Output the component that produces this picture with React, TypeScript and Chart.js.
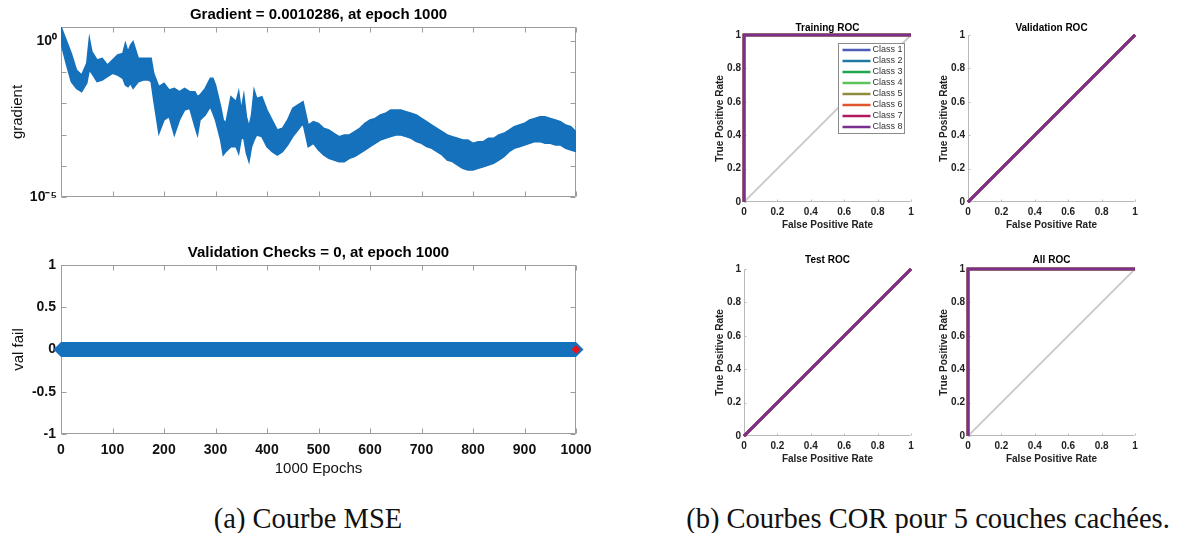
import React, { useEffect, useRef } from 'react';
import { Chart, registerables } from 'chart.js';

Chart.register(...registerables);

const SANS = "'Liberation Sans', Arial, Helvetica, sans-serif";
Chart.defaults.font.family = SANS;
Chart.defaults.color = '#1a1a1a';

// ---------- Data: gradient training curve (band envelope) ----------
const gradEpochs = [
  0, 10, 20, 30, 40, 50, 55, 60, 70, 80,
  90, 100, 110, 120, 125, 130, 135, 140, 150, 160,
  170, 175, 180, 190, 200, 210, 220, 230, 240, 250,
  260, 265, 270, 280, 290, 295, 300, 310, 315, 320,
  330, 340, 345, 350, 355, 360, 365, 370, 375, 380,
  390, 400, 410, 420, 430, 440, 450, 460, 470, 480,
  490, 500, 510, 520, 530, 540, 550, 560, 570, 580,
  590, 600, 610, 620, 630, 640, 650, 660, 670, 680,
  690, 700, 710, 720, 730, 740, 750, 760, 770, 780,
  790, 800, 810, 820, 830, 840, 850, 860, 870, 880,
  890, 900, 910, 920, 930, 940, 950, 960, 970, 980,
  990, 1000,
];
const gradUpper = [
  2.88, 1.08, 0.4, 0.118, 0.081, 0.192, 1.22, 0.455, 0.246, 0.278,
  0.17, 0.246, 0.356, 0.4, 0.84, 0.455, 0.74, 0.95, 0.278, 0.278,
  0.278, 0.278, 0.092, 0.0344, 0.044, 0.0269, 0.0304, 0.0238, 0.0304, 0.0238,
  0.0238, 0.0164, 0.0186, 0.0304, 0.0636, 0.0636, 0.0389, 0.00786, 0.00294, 0.0023,
  0.0164, 0.0114, 0.0238, 0.00614, 0.0186, 0.00376, 0.0018, 0.00425, 0.0269, 0.0145,
  0.0164, 0.00614, 0.00294, 0.0014, 0.00159, 0.00294, 0.00695, 0.00889, 0.0114, 0.00203,
  0.0026, 0.0023, 0.00159, 0.0014, 0.0011, 0.000859, 0.000971, 0.000971, 0.00124, 0.00159,
  0.0023, 0.00294, 0.00332, 0.00425, 0.00481, 0.00614, 0.00614, 0.00614, 0.00543, 0.00481,
  0.00425, 0.00332, 0.0026, 0.00203, 0.00159, 0.00124, 0.000971, 0.000859, 0.000759, 0.000671,
  0.000671, 0.000525, 0.000594, 0.000594, 0.000759, 0.000759, 0.000971, 0.0011, 0.0014, 0.0018,
  0.00203, 0.0023, 0.00294, 0.00332, 0.00376, 0.00376, 0.00332, 0.00294, 0.0026, 0.00203,
  0.0018, 0.00124,
];
const gradLower = [
  0.84, 0.192, 0.0497, 0.0304, 0.0238, 0.044, 0.118, 0.092, 0.0497, 0.0562,
  0.072, 0.092, 0.081, 0.0636, 0.0389, 0.0344, 0.044, 0.0304, 0.0497, 0.0562,
  0.0562, 0.0497, 0.0129, 0.0011, 0.00294, 0.00376, 0.000971, 0.00294, 0.00614, 0.00695,
  0.0018, 0.000971, 0.00294, 0.00425, 0.00786, 0.00481, 0.00294, 0.000671, 0.000222, 0.000284,
  0.00041, 0.00041, 0.000251, 0.000759, 0.000759, 0.000251, 0.000136, 0.00041, 0.000671, 0.000971,
  0.000859, 0.00041, 0.000284, 0.000222, 0.000284, 0.000464, 0.000859, 0.0014, 0.0023, 0.00041,
  0.000525, 0.000321, 0.000222, 0.000173, 0.000153, 0.000136, 0.000136, 0.000173, 0.000196, 0.000251,
  0.000321, 0.00041, 0.000525, 0.000671, 0.000759, 0.000859, 0.000971, 0.000971, 0.000859, 0.000759,
  0.000594, 0.000525, 0.00041, 0.000363, 0.000284, 0.000222, 0.000153, 0.000136, 0.000106, 0.000083,
  0.0000733, 0.0000733, 0.000083, 0.0000938, 0.000106, 0.00012, 0.000153, 0.000196, 0.000284, 0.000363,
  0.00041, 0.000464, 0.000525, 0.000594, 0.000594, 0.000525, 0.000525, 0.000464, 0.000464, 0.000363,
  0.000321, 0.000284,
];
const gradTickValues = [1e-5, 1e-4, 1e-3, 1e-2, 1e-1, 1];
const gradTickLabels = ['10⁻⁵', '', '', '', '', '10⁰'];
const gradMin = 1e-5;
const gradMax = 2.81;

const epochTicks = [0, 100, 200, 300, 400, 500, 600, 700, 800, 900, 1000];
const epochTickLabels = ['0', '100', '200', '300', '400', '500', '600', '700', '800', '900', '1000'];

// ---------- Data: validation checks ----------
const valEpochs = [0, 1000];
const valFail = [0, 0];
const bestEpoch = [1000];
const bestValFail = [0];
const valTicks = [-1, -0.5, 0, 0.5, 1];
const valTickLabels = ['-1', '-0.5', '0', '0.5', '1'];

// ---------- Data: ROC ----------
const rocTicks = [0, 0.2, 0.4, 0.6, 0.8, 1];
const rocTickLabels = ['0', '0.2', '0.4', '0.6', '0.8', '1'];
const classNames = ['Class 1', 'Class 2', 'Class 3', 'Class 4', 'Class 5', 'Class 6', 'Class 7', 'Class 8'];
const classColors = ['#4a5cb6', '#1d7aa2', '#1fa84a', '#5cc45a', '#8c8c3e', '#e0542e', '#b2185c', '#7b2f8f'];
const rocStepFpr = [0, 0, 1];
const rocStepTpr = [0, 1, 1];
const rocDiagFpr = [0, 1];
const rocDiagTpr = [0, 1];
const chanceFpr = [0, 1];
const chanceTpr = [0, 1];

const BLUE = '#1571bb';
const AXIS = '#9c9c9c';

const pts = (xs: number[], ys: number[]) => xs.map((x, i) => ({ x, y: ys[i] }));

// ---------- Plugins ----------
const boxTicks = {
  id: 'boxTicks',
  beforeDatasetsDraw(chart: any, _a: any, opts: any) {
    if (!opts || !opts.color) return;
    const { ctx, chartArea } = chart;
    const xs = chart.scales.x;
    const ys = chart.scales.y;
    const L = Math.round(chartArea.left) + 0.5;
    const R = Math.round(chartArea.right) - 0.5;
    const T = Math.round(chartArea.top) + 0.5;
    const B = Math.round(chartArea.bottom) - 0.5;
    const len = opts.len;
    ctx.save();
    ctx.strokeStyle = opts.color;
    ctx.lineWidth = 1;
    ctx.beginPath();
    ctx.moveTo(L, T);
    ctx.lineTo(L, B);
    ctx.lineTo(R, B);
    if (opts.box) {
      ctx.lineTo(R, T);
      ctx.lineTo(L, T);
    }
    xs.ticks.forEach((t: any) => {
      const px = Math.round(xs.getPixelForValue(t.value)) + 0.5;
      ctx.moveTo(px, B);
      ctx.lineTo(px, B - len);
      if (opts.box) {
        ctx.moveTo(px, T);
        ctx.lineTo(px, T + len);
      }
    });
    ys.ticks.forEach((t: any) => {
      const py = Math.round(ys.getPixelForValue(t.value)) + 0.5;
      ctx.moveTo(L, py);
      ctx.lineTo(L + len, py);
      if (opts.box) {
        ctx.moveTo(R, py);
        ctx.lineTo(R - len, py);
      }
    });
    ctx.stroke();
    ctx.restore();
  },
};

const rocLegend = {
  id: 'rocLegend',
  afterDatasetsDraw(chart: any, _a: any, opts: any) {
    if (!opts || !opts.show) return;
    const { ctx, chartArea } = chart;
    const items = chart.data.datasets.filter((d: any) => classNames.includes(d.label));
    const rowH = 11;
    const w = 66;
    const h = items.length * rowH + 2;
    const x0 = Math.round(chartArea.right - 7 - w) + 0.5;
    const y0 = Math.round(chartArea.top + 8) + 0.5;
    ctx.save();
    ctx.fillStyle = '#ffffff';
    ctx.fillRect(x0, y0, w, h);
    ctx.strokeStyle = '#8a8a8a';
    ctx.lineWidth = 1;
    ctx.strokeRect(x0, y0, w, h);
    ctx.font = `9px ${SANS}`;
    ctx.textBaseline = 'middle';
    ctx.textAlign = 'left';
    items.forEach((d: any, i: number) => {
      const cy = y0 + 6.5 + i * rowH;
      ctx.strokeStyle = d.borderColor;
      ctx.lineWidth = 2.5;
      ctx.beginPath();
      ctx.moveTo(x0 + 4, cy);
      ctx.lineTo(x0 + 32, cy);
      ctx.stroke();
      ctx.fillStyle = '#333333';
      ctx.fillText(d.label, x0 + 34, cy);
    });
    ctx.restore();
  },
};

// an empty right-hand axis so that the title is centred over the plot area
const spacerAxis = (w: number) => ({
  type: 'linear',
  position: 'right',
  display: true,
  grid: { display: false, drawTicks: false },
  border: { display: false },
  ticks: { display: false },
  afterFit: (s: any) => {
    s.width = w;
  },
});

// ---------- Chart configs ----------
function makeGradient(): any {
  return {
    type: 'line',
    data: {
      datasets: [
        {
          label: 'gradient upper',
          data: pts(gradEpochs, gradUpper),
          borderColor: BLUE,
          backgroundColor: BLUE,
          borderWidth: 1.5,
          pointRadius: 0,
          tension: 0,
          fill: '+1',
        },
        {
          label: 'gradient lower',
          data: pts(gradEpochs, gradLower),
          borderColor: BLUE,
          backgroundColor: BLUE,
          borderWidth: 1.5,
          pointRadius: 0,
          tension: 0,
          fill: false,
        },
      ],
    },
    options: {
      responsive: false,
      animation: false,
      devicePixelRatio: 1,
      layout: { padding: { left: 0, right: 3, top: 0, bottom: 0 } },
      plugins: {
        legend: { display: false },
        tooltip: { enabled: false },
        title: {
          display: true,
          text: 'Gradient = 0.0010286, at epoch 1000',
          color: '#000',
          font: { size: 15, weight: 'bold' },
          padding: { top: 6, bottom: 3 },
        },
        boxTicks: { color: AXIS, box: true, len: 5 },
      },
      scales: {
        x: {
          type: 'linear',
          min: 0,
          max: 1000,
          grid: { display: false, drawTicks: false },
          border: { display: false },
          ticks: { display: false },
          afterBuildTicks: (s: any) => {
            s.ticks = epochTicks.map((v) => ({ value: v }));
          },
          afterFit: (s: any) => {
            s.height = 18;
          },
        },
        y: {
          type: 'logarithmic',
          min: gradMin,
          max: gradMax,
          grid: { display: false, drawTicks: false },
          border: { display: false },
          ticks: {
            color: '#111',
            font: { size: 14, weight: 'bold' },
            padding: 4,
            autoSkip: false,
            callback: (_v: any, i: number) => gradTickLabels[i],
          },
          afterBuildTicks: (s: any) => {
            s.ticks = gradTickValues.map((v) => ({ value: v }));
          },
          afterFit: (s: any) => {
            s.width = 61;
          },
          title: {
            display: true,
            text: 'gradient',
            color: '#111',
            font: { size: 15 },
            padding: { top: 9, bottom: 0 },
          },
        },
        ySpacer: spacerAxis(61),
      },
    },
    plugins: [boxTicks],
  };
}

function makeValidation(): any {
  return {
    type: 'line',
    data: {
      datasets: [
        {
          label: 'val fail',
          data: pts(valEpochs, valFail),
          borderColor: BLUE,
          backgroundColor: BLUE,
          borderWidth: 15,
          pointStyle: 'rectRot',
          pointRadius: 7.5,
          pointBorderWidth: 0,
          pointBackgroundColor: BLUE,
          tension: 0,
          clip: false,
          order: 2,
        },
        {
          label: 'best',
          data: pts(bestEpoch, bestValFail),
          showLine: false,
          pointStyle: 'rectRot',
          pointRadius: 4.5,
          pointBorderWidth: 0,
          pointBackgroundColor: '#e8141c',
          borderColor: '#e8141c',
          clip: false,
          order: 1,
        },
      ],
    },
    options: {
      responsive: false,
      animation: false,
      devicePixelRatio: 1,
      layout: { padding: { left: 0, right: 3, top: 0, bottom: 0 } },
      plugins: {
        legend: { display: false },
        tooltip: { enabled: false },
        title: {
          display: true,
          text: 'Validation Checks = 0, at epoch 1000',
          color: '#000',
          font: { size: 15, weight: 'bold' },
          padding: { top: 14, bottom: 3 },
        },
        boxTicks: { color: AXIS, box: true, len: 5 },
      },
      scales: {
        x: {
          type: 'linear',
          min: 0,
          max: 1000,
          grid: { display: false, drawTicks: false },
          border: { display: false },
          ticks: {
            color: '#111',
            font: { size: 14, weight: 'bold' },
            padding: 7.6,
            autoSkip: false,
            maxRotation: 0,
            callback: (_v: any, i: number) => epochTickLabels[i],
          },
          afterBuildTicks: (s: any) => {
            s.ticks = epochTicks.map((v) => ({ value: v }));
          },
          afterFit: (s: any) => {
            s.height = 56;
          },
          title: {
            display: true,
            text: '1000 Epochs',
            color: '#111',
            font: { size: 15 },
            padding: { top: 0, bottom: 12 },
          },
        },
        y: {
          type: 'linear',
          min: -1,
          max: 1,
          grid: { display: false, drawTicks: false },
          border: { display: false },
          ticks: {
            color: '#111',
            font: { size: 14, weight: 'bold' },
            padding: 5,
            autoSkip: false,
            callback: (_v: any, i: number) => valTickLabels[i],
          },
          afterBuildTicks: (s: any) => {
            s.ticks = valTicks.map((v) => ({ value: v }));
          },
          afterFit: (s: any) => {
            s.width = 61;
          },
          title: {
            display: true,
            text: 'val fail',
            color: '#111',
            font: { size: 15 },
            padding: { top: 10, bottom: 0 },
          },
        },
        ySpacer: spacerAxis(61),
      },
    },
    plugins: [boxTicks],
  };
}

function makeRoc(title: string, fpr: number[], tpr: number[], showLegend: boolean, titleTop: number): any {
  const datasets: any[] = [
    {
      label: 'chance',
      data: pts(chanceFpr, chanceTpr),
      borderColor: '#cdcdcd',
      borderWidth: 2,
      pointRadius: 0,
      tension: 0,
      clip: 4,
      order: 100,
    },
  ];
  classNames.forEach((name, i) => {
    datasets.push({
      label: name,
      data: pts(fpr, tpr),
      borderColor: classColors[i],
      backgroundColor: classColors[i],
      borderWidth: 2.5,
      pointRadius: 0,
      tension: 0,
      clip: 4,
      order: classNames.length - i,
    });
  });
  const tickFont = { size: 10, weight: 'bold' };
  return {
    type: 'line',
    data: { datasets },
    options: {
      responsive: false,
      animation: false,
      devicePixelRatio: 1,
      layout: { padding: { left: 0, right: 1, top: 0, bottom: 0 } },
      plugins: {
        legend: { display: false },
        tooltip: { enabled: false },
        title: {
          display: true,
          text: title,
          color: '#000',
          font: { size: 10, weight: 'bold' },
          padding: { top: titleTop, bottom: 13 - titleTop },
        },
        boxTicks: { color: '#b9b9b9', box: false, len: 2 },
        rocLegend: { show: showLegend },
      },
      scales: {
        x: {
          type: 'linear',
          min: 0,
          max: 1,
          grid: { display: false, drawTicks: false },
          border: { display: false },
          ticks: {
            color: '#222',
            font: tickFont,
            padding: 4,
            autoSkip: false,
            maxRotation: 0,
            callback: (_v: any, i: number) => rocTickLabels[i],
          },
          afterBuildTicks: (s: any) => {
            s.ticks = rocTicks.map((v) => ({ value: v }));
          },
          afterFit: (s: any) => {
            s.height = 38;
          },
          title: {
            display: true,
            text: 'False Positive Rate',
            color: '#222',
            font: { size: 10, weight: 'bold' },
            padding: { top: 0, bottom: 9 },
          },
        },
        y: {
          type: 'linear',
          min: 0,
          max: 1,
          grid: { display: false, drawTicks: false },
          border: { display: false },
          ticks: {
            color: '#222',
            font: tickFont,
            padding: 3,
            autoSkip: false,
            callback: (_v: any, i: number) => rocTickLabels[i],
          },
          afterBuildTicks: (s: any) => {
            s.ticks = rocTicks.map((v) => ({ value: v }));
          },
          afterFit: (s: any) => {
            s.width = 44;
          },
          title: {
            display: true,
            text: 'True Positive Rate',
            color: '#222',
            font: { size: 10, weight: 'bold' },
            padding: { top: 14.7, bottom: 0 },
          },
        },
        ySpacer: spacerAxis(44),
      },
    },
    plugins: [boxTicks, rocLegend],
  };
}

// ---------- Components ----------
function ChartBox(props: { left: number; top: number; width: number; height: number; make: () => any }) {
  const ref = useRef<HTMLCanvasElement | null>(null);
  useEffect(() => {
    const chart = new Chart(ref.current as HTMLCanvasElement, props.make());
    return () => chart.destroy();
  }, []);
  return (
    <canvas
      ref={ref}
      width={props.width}
      height={props.height}
      style={{ position: 'absolute', left: props.left, top: props.top, width: props.width, height: props.height }}
    />
  );
}

const captionStyle = (center: number): React.CSSProperties => ({
  position: 'absolute',
  left: center - 350,
  width: 700,
  top: 503,
  textAlign: 'center',
  fontFamily: "'Liberation Serif', 'Times New Roman', serif",
  fontSize: 28.5,
  lineHeight: '32px',
  color: '#111',
  whiteSpace: 'nowrap',
});

export default function App() {
  return (
    <div
      style={{
        position: 'absolute',
        left: 0,
        top: 0,
        width: 1185,
        height: 533,
        background: '#ffffff',
        overflow: 'hidden',
      }}
    >
      <ChartBox left={0} top={0} width={640} height={215} make={makeGradient} />
      <ChartBox left={0} top={230} width={640} height={260} make={makeValidation} />
      <ChartBox left={700} top={10} width={256} height={230} make={() => makeRoc('Training ROC', rocStepFpr, rocStepTpr, true, 12.3)} />
      <ChartBox left={924} top={10} width={256} height={230} make={() => makeRoc('Validation ROC', rocDiagFpr, rocDiagTpr, false, 12.3)} />
      <ChartBox left={700} top={244} width={256} height={230} make={() => makeRoc('Test ROC', rocDiagFpr, rocDiagTpr, false, 10.7)} />
      <ChartBox left={924} top={244} width={256} height={230} make={() => makeRoc('All ROC', rocStepFpr, rocStepTpr, false, 10.7)} />
      <div style={captionStyle(308)}>(a) Courbe MSE</div>
      <div style={captionStyle(928)}>(b) Courbes COR pour 5 couches cachées.</div>
    </div>
  );
}
